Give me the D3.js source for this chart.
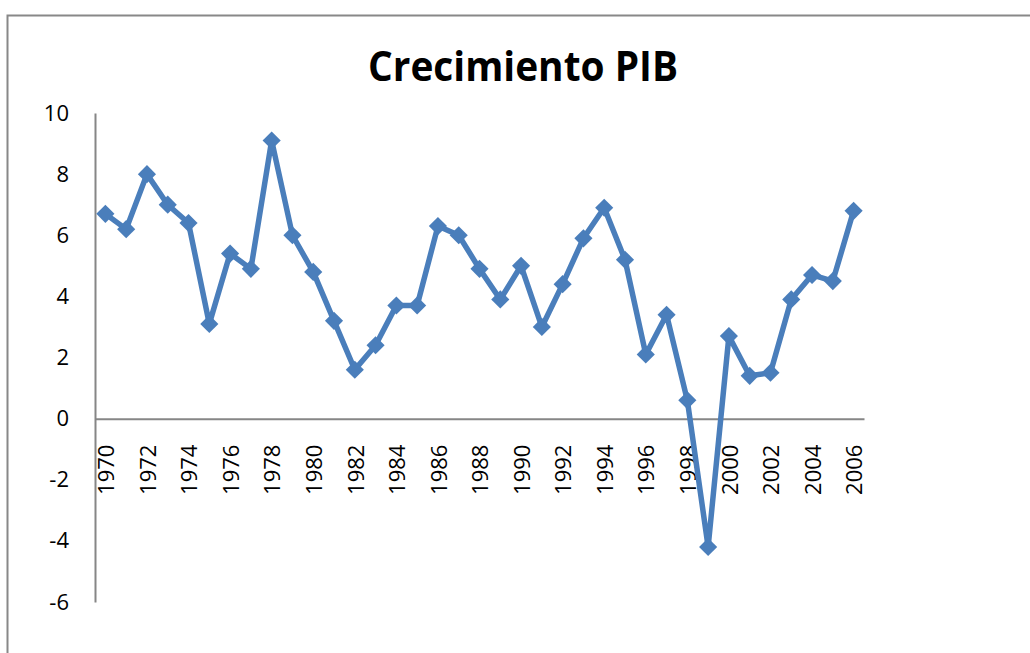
<!DOCTYPE html>
<html>
<head>
<meta charset="utf-8">
<script src="https://cdn.jsdelivr.net/npm/d3@7"></script>
<style>
  body { margin: 0; background: #fff; }
  text { font-family: "Open Sans", "Liberation Sans", sans-serif; }
</style>
</head>
<body>
<script>
// data
const years = d3.range(1970, 2007).map(String);
const growth = [6.7, 6.2, 8.0, 7.0, 6.4, 3.1, 5.4, 4.9, 9.1, 6.0,
                4.8, 3.2, 1.6, 2.4, 3.7, 3.7, 6.3, 6.0, 4.9, 3.9,
                5.0, 3.0, 4.4, 5.9, 6.9, 5.2, 2.1, 3.4, 0.6, -4.2,
                2.7, 1.4, 1.5, 3.9, 4.7, 4.5, 6.8];
const yTicks = [-6, -4, -2, 0, 2, 4, 6, 8, 10];
const title = "Crecimiento PIB";

const width = 1030, height = 653;

const svg = d3.select("body").append("svg")
    .attr("width", width)
    .attr("height", height);

// chart border (runs off the right and bottom edge)
svg.append("rect")
    .attr("x", 7.5).attr("y", 15.5)
    .attr("width", 1040).attr("height", 660)
    .attr("fill", "none")
    .attr("stroke", "#888")
    .attr("stroke-width", 2);

svg.append("text")
    .attr("x", 523).attr("y", 81)
    .attr("text-anchor", "middle")
    .attr("font-size", 42)
    .attr("font-weight", "bold")
    .attr("textLength", 310)
    .attr("lengthAdjust", "spacingAndGlyphs")
    .text(title);

const xScale = d3.scaleBand()
    .domain(years)
    .range([95, 864]);

const yScale = d3.scaleLinear()
    .domain([-6, 10])
    .range([602, 113]);

// y axis, plain hyphen for negatives like the original
const yAxis = svg.append("g")
    .attr("transform", "translate(95,0)")
    .call(d3.axisLeft(yScale).tickValues(yTicks).tickSize(0).tickPadding(26)
        .tickFormat(d => String(d)));
yAxis.select(".domain").attr("stroke", "#868686").attr("stroke-width", 2);
yAxis.selectAll("text").attr("font-size", 22).attr("fill", "#000");

// x axis at zero
const xAxis = svg.append("g")
    .attr("transform", `translate(0,${yScale(0)})`)
    .call(d3.axisBottom(xScale).tickValues(years.filter((d, i) => i % 2 === 0)).tickSize(0));
xAxis.select(".domain").attr("stroke", "#868686").attr("stroke-width", 2);
xAxis.selectAll("text")
    .attr("font-size", 22)
    .attr("fill", "#000")
    .attr("text-anchor", "end")
    .attr("dy", "0.35em")
    .attr("transform", "translate(1,26) rotate(-90)")
    .attr("x", 0).attr("y", 0);

const cx = (d, i) => xScale(years[i]) + xScale.bandwidth() / 2;

svg.append("path")
    .datum(growth)
    .attr("fill", "none")
    .attr("stroke", "#4a7ebb")
    .attr("stroke-width", 5.5)
    .attr("stroke-linejoin", "round")
    .attr("d", d3.line().x(cx).y(d => yScale(d)));

svg.selectAll(".marker")
    .data(growth)
    .enter()
    .append("path")
    .attr("class", "marker")
    .attr("transform", (d, i) => `translate(${cx(d, i)},${yScale(d)})`)
    .attr("d", d3.symbol().type(d3.symbolDiamond2).size(210))
    .attr("fill", "#4a7ebb");
</script>
</body>
</html>
